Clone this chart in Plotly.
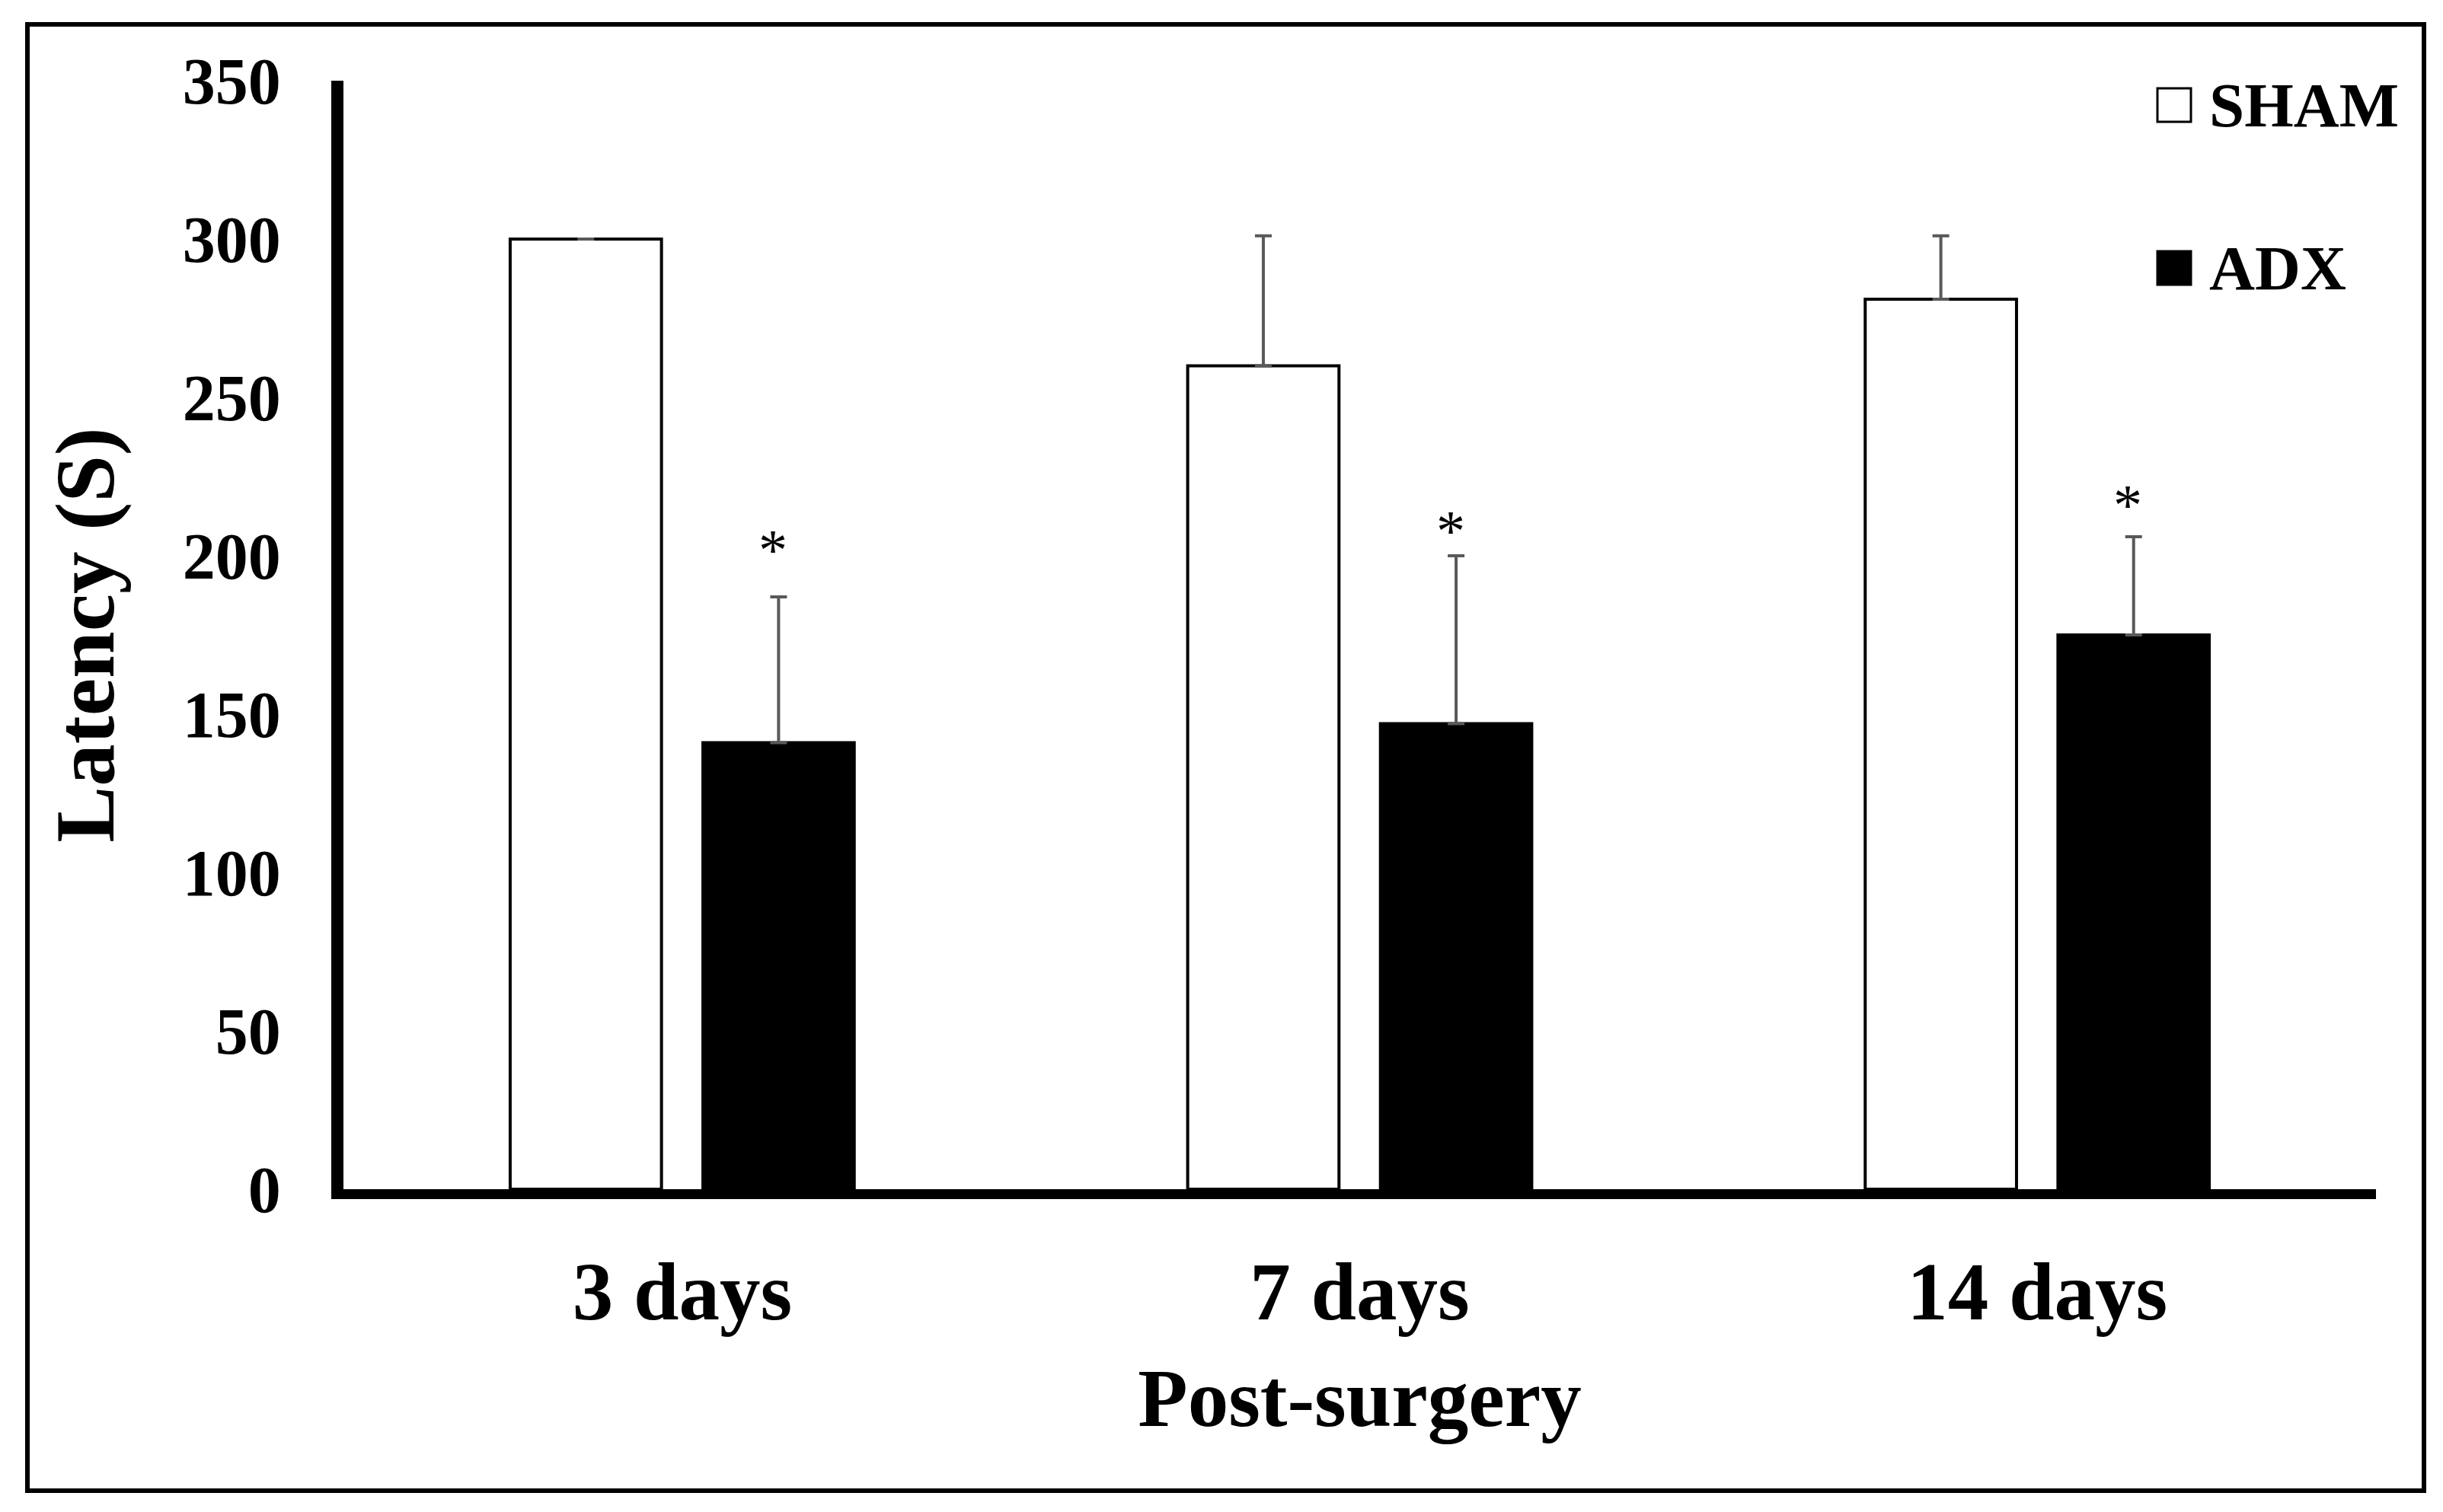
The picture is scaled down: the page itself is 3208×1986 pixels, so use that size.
import plotly.graph_objects as go

categories = ["3 days", "7 days", "14 days"]
sham_mean = [300, 260, 281]
sham_err = [0, 41, 20]
adx_mean = [141, 147, 175]
adx_err = [46, 53, 31]
y_ticks = [0, 50, 100, 150, 200, 250, 300, 350]
sig_marks = ["*", "*", "*"]
sig_y = [202, 208, 216]
series_names = ["SHAM", "ADX"]

FONT = "Liberation Serif"
OFF = 8  # default page body margin
W, H = 3208 - 2 * OFF, 1986 - 2 * OFF
# plot area in page pixels: left 451, right 3120, top 106, bottom 1562
L = 451 - OFF
T = 106 - OFF
R = W - (3120 - OFF)
B = H - (1562 - OFF)
PW, PH = W - L - R, H - T - B


def px_x(p):
    return (p - OFF - L) / PW


def px_y(p):
    return (H - B - (p - OFF)) / PH


fig = go.Figure()
fig.add_trace(go.Bar(
    name=series_names[0], x=categories, y=sham_mean, showlegend=False,
    marker=dict(color="white", line=dict(color="black", width=4)),
    error_y=dict(type="data", symmetric=False, array=sham_err,
                 arrayminus=[0] * len(sham_err), color="#595959",
                 thickness=4, width=11),
))
fig.add_trace(go.Bar(
    name=series_names[1], x=categories, y=adx_mean, showlegend=False,
    marker=dict(color="black", line=dict(color="black", width=4)),
    error_y=dict(type="data", symmetric=False, array=adx_err,
                 arrayminus=[0] * len(adx_err), color="#595959",
                 thickness=4, width=11),
))

for i, c in enumerate(categories):
    fig.add_annotation(
        x=c, y=sig_y[i], xref="x", yref="y",
        text=sig_marks[i], showarrow=False, xanchor="center", yanchor="middle",
        xshift=119, yshift=0,
        font=dict(family=FONT, size=76, color="black"),
    )

# legend (squares + labels), page pixel positions
legend_fill = ["white", "black"]
legend_cy = [138, 352]
for name, fill, cy in zip(series_names, legend_fill, legend_cy):
    fig.add_shape(type="rect", xref="paper", yref="paper",
                  x0=px_x(2833), x1=px_x(2877), y0=px_y(cy + 22), y1=px_y(cy - 22),
                  line=dict(color="black", width=3), fillcolor=fill)
    fig.add_annotation(x=px_x(2899), y=px_y(cy), xref="paper", yref="paper",
                       text=name, showarrow=False, xanchor="left", yanchor="middle",
                       font=dict(family=FONT, size=83, color="black", weight="bold"))

# outer frame
fig.add_shape(type="rect", xref="paper", yref="paper",
              x0=px_x(36), x1=px_x(3183), y0=px_y(1958), y1=px_y(32),
              line=dict(color="black", width=6), fillcolor="rgba(0,0,0,0)",
              layer="below")

fig.update_layout(
    width=W, height=H,
    margin=dict(l=L, r=R, t=T, b=B, pad=0),
    paper_bgcolor="white", plot_bgcolor="white",
    barmode="group", bargap=0.431, bargroupgap=0.215,
    font=dict(family=FONT, color="black"),
    showlegend=False,
    xaxis=dict(
        showline=True, linecolor="black", linewidth=13,
        showgrid=False, ticks="", zeroline=False,
        tickfont=dict(family=FONT, size=107, color="black", weight="bold"),
        ticklabelstandoff=30,
        title=dict(text="Post-surgery", standoff=48,
                   font=dict(family=FONT, size=107, color="black", weight="bold")),
    ),
    yaxis=dict(
        range=[0, 350], tickvals=y_ticks, showline=True, linecolor="black",
        linewidth=16, showgrid=False, ticks="", zeroline=False,
        tickfont=dict(family=FONT, size=86, color="black", weight="bold"),
        ticklabelstandoff=49,
        title=dict(text="Latency (S)", standoff=60,
                   font=dict(family=FONT, size=111, color="black", weight="bold")),
    ),
)

fig.write_html("out.html")
